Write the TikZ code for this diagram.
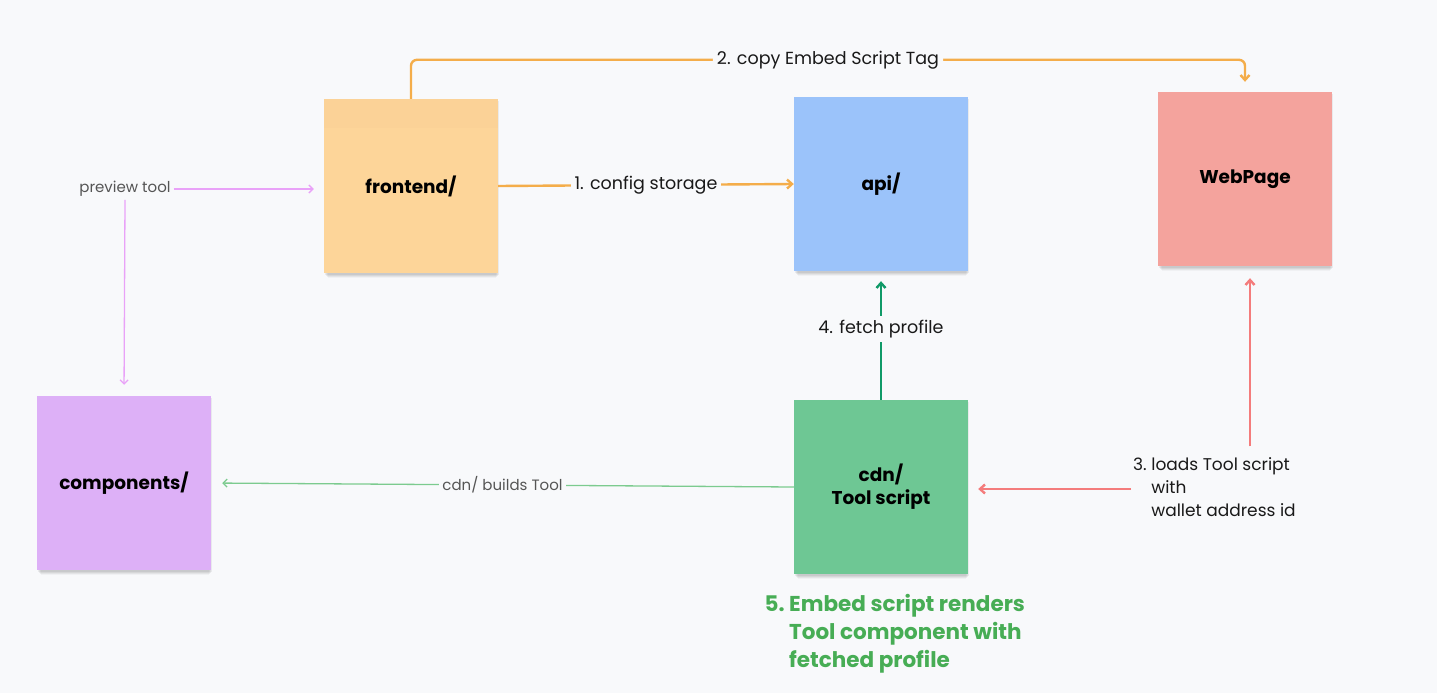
\documentclass[tikz,border=0pt]{standalone}
\usepackage{fontspec}
\setmainfont{Poppins}
\usepackage{tikz}
\usetikzlibrary{calc, shadows, arrows.meta}
\definecolor{bgc}{HTML}{F8F9FB}
\definecolor{frontc}{HTML}{FDD599}
\definecolor{fronttop}{HTML}{FBD297}
\definecolor{apic}{HTML}{9BC3FA}
\definecolor{webc}{HTML}{F4A39D}
\definecolor{compc}{HTML}{DDB0F7}
\definecolor{cdnc}{HTML}{6EC794}
\definecolor{orangec}{HTML}{F4AD4A}
\definecolor{pinkc}{HTML}{E9A2F8}
\definecolor{fetchc}{HTML}{109A68}
\definecolor{redc}{HTML}{F47C7C}
\definecolor{buildc}{HTML}{7CCB8F}
\definecolor{stepc}{HTML}{47AD55}
\definecolor{greytxt}{HTML}{555555}
\tikzset{
	note/.style={minimum size=174pt, inner sep=0pt, font=\fontsize{18.5}{23}\selectfont\bfseries, align=center,
		drop shadow={shadow xshift=1pt, shadow yshift=-2pt, opacity=.06, fill=black},
		drop shadow={shadow xshift=1pt, shadow yshift=-4pt, opacity=.06, fill=black, shadow scale=.99},
		drop shadow={shadow xshift=1pt, shadow yshift=-6pt, opacity=.05, fill=black, shadow scale=.98},
		drop shadow={shadow xshift=1pt, shadow yshift=-8pt, opacity=.03, fill=black, shadow scale=.97}},
	lbl/.style={font=\fontsize{17.5}{23}\selectfont, text=black!90, fill=bgc, inner sep=4pt},
	smalllbl/.style={font=\fontsize{15}{17}\selectfont, text=greytxt, fill=bgc, inner sep=3pt},
	link/.style={line width=2.4pt, -{Straight Barb[length=5pt, width=9pt]}},
	thinlink/.style={line width=1.3pt, -{Straight Barb[length=4pt, width=8pt]}}
}
\begin{document}
\begin{tikzpicture}[x=1pt, y=-1pt]
	\fill[bgc] (0,0) rectangle (1437,693);
	\useasboundingbox (0,0) rectangle (1437,693);
	% sticky notes
	\node[note, fill=frontc, name=front] at (411,186) {};
	\fill[fronttop] (front.north west) rectangle ([yshift=-29pt]front.north east);
	\node at (front.center) [font=\fontsize{18.5}{23}\selectfont\bfseries] {frontend/};
	\node[note, fill=apic, name=api] at (881,184) {api/};
	\node[note, fill=webc, name=web] at (1245,179) {WebPage};
	\node[note, fill=compc, name=comp] at (124,483) {components/};
	\node[note, fill=cdnc, name=cdn] at (881,487) {cdn/\\Tool script};
	% labels
	\node[smalllbl, name=prev] at (125,189) {preview tool};
	\node[lbl, name=load, anchor=west, fill=none, inner sep=2pt, font=\fontsize{17}{23}\selectfont] at (1131,489) {%
		\begin{tabular}{@{}l@{\ }l@{}}3.&loads Tool script\\ &with\\ &wallet address id\end{tabular}};
	\node[anchor=north west, text=stepc, font=\fontsize{21.5}{28}\selectfont\bfseries, name=render] at (761,588) {%
		\begin{tabular}{@{}l@{\ }l@{}}5.&Embed script renders\\ &Tool component with\\ &fetched profile\end{tabular}};
	% connectors
	\draw[thinlink, pinkc, shorten >=10pt] (prev.east) -- (front.west |- prev.east);
	\draw[thinlink, pinkc, shorten >=11pt] (prev.south) -- (comp.north);
	\draw[link, orangec] (front.east) -- node[lbl]{1. config storage} (api.west);
	\draw[link, orangec, rounded corners=6pt, shorten >=10pt] (front.north) -- ++(0,-39) -| node[lbl, pos=.25]{2. copy Embed Script Tag} (web.north);
	\draw[link, fetchc, shorten >=10pt] (cdn.north) -- node[lbl, pos=.55]{4. fetch profile} (api.south);
	\draw[link, redc, shorten >=10pt] (load.west) -- (cdn.east |- load.west);
	\draw[link, redc, shorten >=12pt, shorten <=6pt] ([xshift=5pt]load.north -| web.south) -- ([xshift=5pt]web.south);
	\draw[thinlink, buildc, shorten >=11pt] (cdn.west) -- node[smalllbl]{cdn/ builds Tool} (comp.east);
\end{tikzpicture}
\end{document}
